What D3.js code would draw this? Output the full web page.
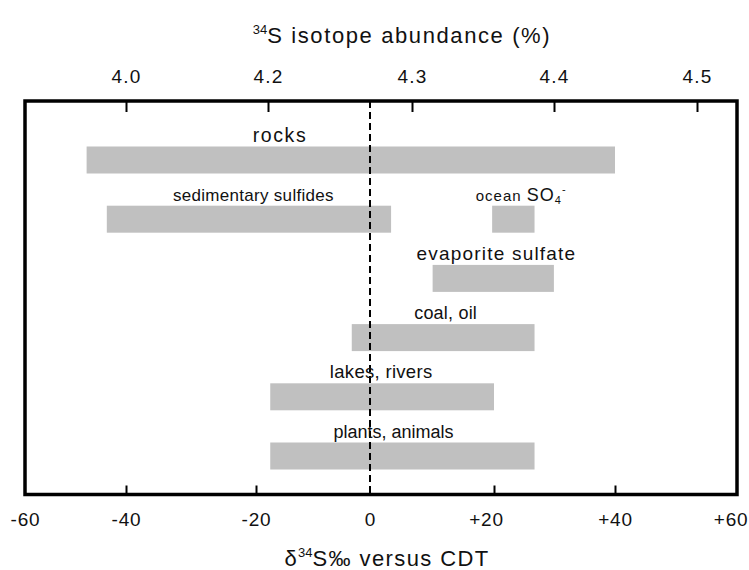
<!DOCTYPE html>
<html>
<head>
<meta charset="utf-8">
<script src="https://cdn.jsdelivr.net/npm/d3@7"></script>
<style>
  html, body { margin: 0; padding: 0; background: #fff; }
  svg { display: block; font-family: "Liberation Sans", Arial, sans-serif; }
  .axis text { fill: #111; }
</style>
</head>
<body>
<svg id="chart" width="749" height="570"></svg>
<script>
// Sulfur reservoirs and their δ34S ranges (‰ vs CDT)
const categories = ["rocks", "sedimentary sulfides", "ocean SO4", "evaporite sulfate", "coal, oil", "lakes, rivers", "plants, animals"];
const rowOf      = [0, 1, 1, 2, 3, 4, 5];
const lowValues  = [-47.8, -43.8, 19.7, 10.1, -3.2, -17.5, -17.5];
const highValues = [40.0, 3.4, 26.7, 29.9, 26.7, 20.0, 26.7];
// where each reservoir name is centred, in ‰
const labelAt    = [-15.8, -20.4, 24.5, 20.4, 12.2, 1.8, 3.8];

// axis ticks
const deltaTicks = [-60, -40, -20, 0, 20, 40, 60];
const abundanceTicks = [4.0, 4.2, 4.3, 4.4, 4.5];

const svg = d3.select("#chart");
const frame = { left: 25, right: 737, top: 101, bottom: 494.5 };

// hand-spaced δ axis, reproduced with a polylinear scale
const x = d3.scaleLinear()
  .domain(deltaTicks)
  .range([25, 126, 256, 370, 494, 615, 737]);

// abundance axis along the top
const xTop = d3.scaleLinear()
  .domain(abundanceTicks)
  .range([126, 268, 412, 554, 697]);

const y = d3.scalePoint()
  .domain(d3.range(6))
  .range([160, 456]);
const barH = 27;

const rows = categories.map((c, i) => ({
  name: c, row: rowOf[i], lo: lowValues[i], hi: highValues[i], at: labelAt[i]
}));

// bars
svg.append("g").selectAll("rect")
  .data(rows)
  .join("rect")
  .attr("x", d => x(d.lo))
  .attr("width", d => x(d.hi) - x(d.lo))
  .attr("y", d => y(d.row) - barH / 2)
  .attr("height", barH)
  .attr("fill", "#c0c0c0");

// zero line
svg.append("line")
  .attr("x1", x(0)).attr("x2", x(0))
  .attr("y1", frame.top).attr("y2", frame.bottom)
  .attr("stroke", "#000")
  .attr("stroke-width", 2)
  .attr("stroke-dasharray", "7,4");

// reservoir labels
const labelStyle = {
  "rocks": { size: 19.5, ls: 1.6 },
  "sedimentary sulfides": { size: 17, ls: 0.3 },
  "ocean SO4": { size: 15, ls: 1.0 },
  "evaporite sulfate": { size: 19, ls: 1.2 },
  "coal, oil": { size: 18, ls: 0.2 },
  "lakes, rivers": { size: 18.5, ls: 0.3 },
  "plants, animals": { size: 18, ls: 0 }
};

const labels = svg.append("g").selectAll("text")
  .data(rows)
  .join("text")
  .attr("x", d => x(d.at))
  .attr("y", d => y(d.row) - barH / 2 - 5)
  .attr("text-anchor", "middle")
  .attr("fill", "#111")
  .style("font-size", d => labelStyle[d.name].size + "px")
  .style("letter-spacing", d => labelStyle[d.name].ls + "px");

labels.each(function(d) {
  const t = d3.select(this);
  if (d.name === "ocean SO4") {
    t.append("tspan").text("ocean ");
    t.append("tspan").style("font-size", "18px").text("SO");
    t.append("tspan").style("font-size", "11px").attr("dy", 3).text("4");
    t.append("tspan").style("font-size", "11px").attr("dy", -11).text("-");
  } else {
    t.text(d.name);
  }
});

// frame
svg.append("rect")
  .attr("x", frame.left).attr("y", frame.top)
  .attr("width", frame.right - frame.left)
  .attr("height", frame.bottom - frame.top)
  .attr("fill", "none")
  .attr("stroke", "#000")
  .attr("stroke-width", 3.5);

// bottom δ axis, ticks pointing inward
const fmtDelta = d => d > 0 ? "+" + d : String(d);
const bottomAxis = svg.append("g")
  .attr("class", "axis")
  .attr("transform", `translate(0,${frame.bottom})`)
  .call(d3.axisBottom(x).tickValues(deltaTicks).tickFormat(fmtDelta)
    .tickSizeInner(-9).tickSizeOuter(0).tickPadding(18));
bottomAxis.select(".domain").remove();
bottomAxis.selectAll(".tick line")
  .attr("stroke", "#000").attr("stroke-width", 2)
  .attr("display", d => (d === 0 || Math.abs(d) === 60) ? "none" : null);
bottomAxis.selectAll(".tick text")
  .style("font-size", "19px").style("letter-spacing", "0.8px")
  .style("font-family", "'Liberation Sans', Arial, sans-serif");
// the last label sits flush against the right edge of the page
bottomAxis.selectAll(".tick text")
  .filter(d => d === 60)
  .attr("text-anchor", "end")
  .attr("x", 11);
bottomAxis.selectAll(".tick text")
  .filter(d => d === 20)
  .attr("x", -8);

// top abundance axis
const topAxis = svg.append("g")
  .attr("class", "axis")
  .attr("transform", `translate(0,${frame.top})`)
  .call(d3.axisTop(xTop).tickValues(abundanceTicks).tickFormat(d3.format(".1f"))
    .tickSizeInner(-11).tickSizeOuter(0).tickPadding(18));
topAxis.select(".domain").remove();
topAxis.selectAll(".tick line").attr("stroke", "#000").attr("stroke-width", 2);
topAxis.selectAll(".tick text")
  .style("font-size", "19px").style("letter-spacing", "1.2px")
  .style("font-family", "'Liberation Sans', Arial, sans-serif");

// top title
const tTop = svg.append("text")
  .attr("x", 402).attr("y", 43)
  .attr("text-anchor", "middle")
  .attr("fill", "#111")
  .style("font-size", "22px")
  .style("letter-spacing", "1.6px");
tTop.append("tspan").style("font-size", "13px").style("letter-spacing", "0px").attr("dy", -9).text("34");
tTop.append("tspan").attr("dy", 9).text("S isotope abundance (%)");

// bottom title
const tBot = svg.append("text")
  .attr("x", 387).attr("y", 566)
  .attr("text-anchor", "middle")
  .attr("fill", "#111")
  .style("font-size", "22px")
  .style("letter-spacing", "1.4px");
tBot.append("tspan").text("δ");
tBot.append("tspan").style("font-size", "13px").style("letter-spacing", "0px").attr("dy", -9).text("34");
tBot.append("tspan").attr("dy", 9).text("S‰ versus CDT");
</script>
</body>
</html>
